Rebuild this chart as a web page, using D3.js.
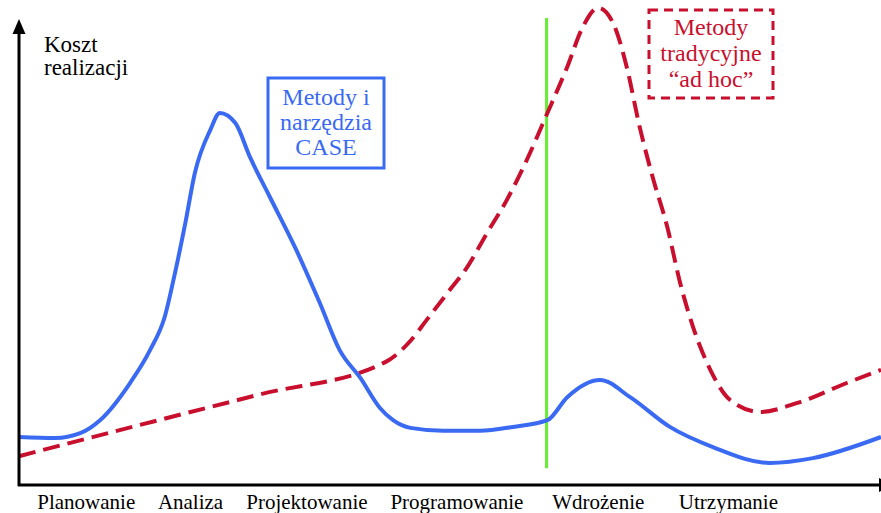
<!DOCTYPE html>
<html>
<head>
<meta charset="utf-8">
<script src="https://cdn.jsdelivr.net/npm/d3@7"></script>
<style>
  html, body { margin: 0; padding: 0; background: #fff; }
  svg { display: block; font-family: "Liberation Serif", "Times New Roman", serif; }
</style>
</head>
<body>
<div id="chart"></div>
<script>
// project phases (x axis labels) and their centre positions on a 0-100 time axis
const stages = ["Planowanie", "Analiza", "Projektowanie", "Programowanie", "Wdrożenie", "Utrzymanie"];
const stagePos = [7.8, 19.9, 33.4, 50.8, 67.2, 82.3];

// CASE methods cost curve: [time, cost]
const caseCost = [
  [0, 10.0], [4.2, 9.8], [7.1, 10.8], [9.4, 13.5], [12.9, 21.3], [15.2, 28.1],
  [16.9, 35.0], [18.1, 44.2], [19.3, 54.6], [20.4, 65.0], [22.2, 74.0], [23.3, 77.5],
  [25.1, 75.4], [26.8, 68.3], [29.1, 60.0], [32.0, 49.6], [34.9, 37.9], [37.2, 28.1],
  [39.6, 22.3], [41.9, 16.0], [43.4, 13.5], [45.4, 11.9], [49.2, 11.3], [53.5, 11.3],
  [57.3, 12.1], [61.3, 13.5], [63.6, 18.3], [67.4, 21.9], [70.9, 18.3], [75.5, 12.1],
  [80.5, 7.9], [87.1, 4.6], [92.1, 5.6], [100, 10.0]
];

// traditional "ad hoc" methods cost curve: [time, cost]
const adHocCost = [
  [0, 6.0], [14, 12.5], [28, 18.9], [42.5, 25.6], [45.5, 30.2], [47.3, 34.4],
  [49.7, 40.0], [52.0, 45.4], [54.3, 52.5], [56.6, 59.4], [58.9, 67.7], [61.3, 77.5],
  [63.6, 87.1], [65.4, 95.4], [67.2, 99.4], [68.9, 96.3], [70.5, 87.1], [72.0, 74.6],
  [73.5, 64.2], [75.2, 53.8], [76.7, 42.1], [78.2, 32.9], [80.2, 24.0], [82.5, 17.7],
  [86.0, 15.2], [90.3, 17.1], [96.1, 21.3], [100, 24.0]
];

// deployment marker: time and its vertical extent in cost units
const deployMark = { t: 61.2, from: 3.5, to: 97.3 };

const width = 881;
const height = 513;

const x = d3.scaleLinear().domain([0, 100]).range([19, 881]);
const y = d3.scaleLinear().domain([0, 100]).range([485, 5]);

const svg = d3.select("#chart")
  .append("svg")
  .attr("width", width)
  .attr("height", height);

const blue = "#3a6af2";
const red = "#c8102e";

// green deployment line
svg.append("line")
  .attr("x1", x(deployMark.t)).attr("x2", x(deployMark.t))
  .attr("y1", y(deployMark.from)).attr("y2", y(deployMark.to))
  .attr("stroke", "#66ee33")
  .attr("stroke-width", 3);

const line = d3.line()
  .x(d => x(d[0]))
  .y(d => y(d[1]))
  .curve(d3.curveMonotoneX);

svg.append("path")
  .datum(adHocCost)
  .attr("d", line)
  .attr("fill", "none")
  .attr("stroke", red)
  .attr("stroke-width", 4)
  .attr("stroke-dasharray", "17,8");

svg.append("path")
  .datum(caseCost)
  .attr("d", line)
  .attr("fill", "none")
  .attr("stroke", blue)
  .attr("stroke-width", 4);

// axes with arrow heads
svg.append("line")
  .attr("x1", 19).attr("x2", 19)
  .attr("y1", 486).attr("y2", 30)
  .attr("stroke", "#000").attr("stroke-width", 3);
svg.append("path")
  .attr("d", "M19,19 L12.5,34 L25.5,34 Z")
  .attr("fill", "#000");

svg.append("line")
  .attr("x1", 18).attr("x2", 881)
  .attr("y1", 485).attr("y2", 485)
  .attr("stroke", "#000").attr("stroke-width", 3);
svg.append("path")
  .attr("d", "M894,485 L879,478 L879,492 Z")
  .attr("fill", "#000");

// y axis title
svg.append("text")
  .attr("font-size", 23)
  .selectAll("tspan")
  .data(["Koszt", "realizacji"])
  .enter()
  .append("tspan")
  .attr("x", 44)
  .attr("y", (d, i) => 52 + i * 23)
  .text(d => d);

// stage labels
svg.selectAll(".stage")
  .data(stages)
  .enter()
  .append("text")
  .attr("class", "stage")
  .attr("x", (d, i) => x(stagePos[i]))
  .attr("y", 509)
  .attr("text-anchor", "middle")
  .attr("font-size", 21)
  .text(d => d);

// legend boxes
function labelBox(x0, y0, w, h, lines, color, dashed, baseline, step) {
  svg.append("rect")
    .attr("x", x0).attr("y", y0)
    .attr("width", w).attr("height", h)
    .attr("fill", "#fff")
    .attr("stroke", color)
    .attr("stroke-width", 3)
    .attr("stroke-dasharray", dashed ? "9,6" : null);
  svg.append("text")
    .attr("fill", color)
    .attr("font-size", 24)
    .attr("text-anchor", "middle")
    .selectAll("tspan")
    .data(lines)
    .enter()
    .append("tspan")
    .attr("x", x0 + w / 2)
    .attr("y", (d, i) => baseline + i * step)
    .text(d => d);
}

labelBox(268, 78, 116, 90, ["Metody i", "narzędzia", "CASE"], blue, false, 105, 25);
labelBox(649, 10, 124, 88, ["Metody", "tradycyjne", "\u201cad hoc\u201d"], red, true, 35, 26);
</script>
</body>
</html>
